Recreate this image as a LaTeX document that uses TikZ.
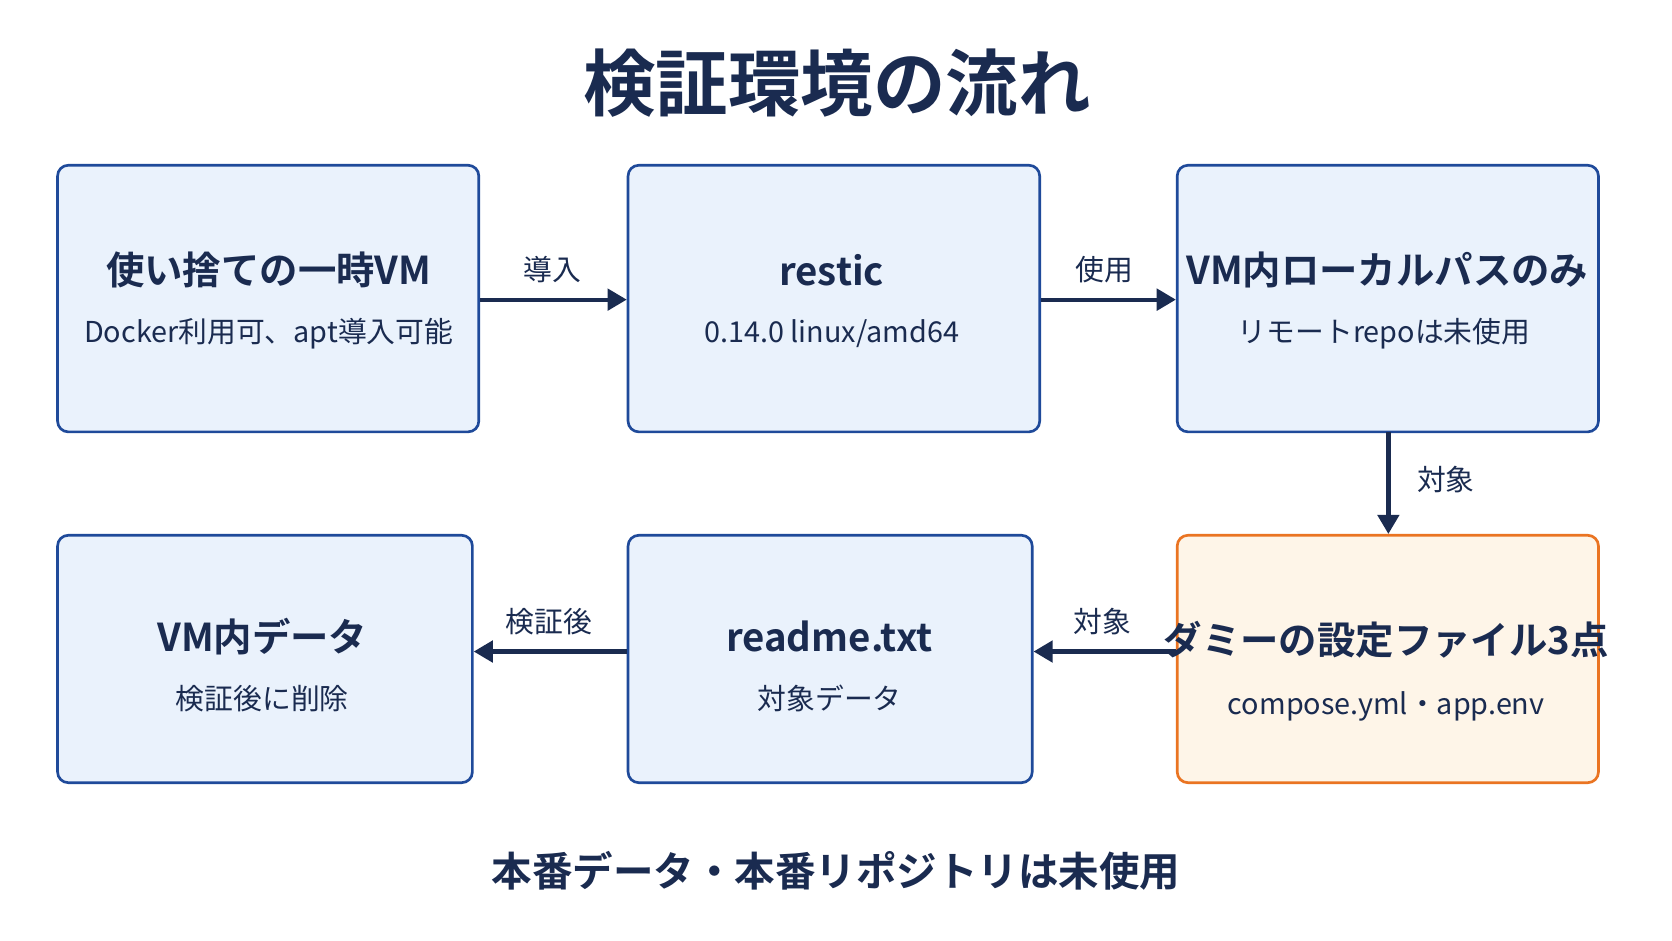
\documentclass[tikz,border=0pt]{standalone}
\usepackage{fontspec}
\setmainfont{Noto Sans CJK JP}[BoldFont={* Bold}]
\usetikzlibrary{arrows.meta}
\definecolor{navy}{HTML}{1A2B50}
\definecolor{bord}{HTML}{1F4A9A}
\definecolor{fillb}{HTML}{EAF2FC}
\definecolor{orb}{HTML}{EA7422}
\definecolor{orf}{HTML}{FEF5E8}
\begin{document}
\begin{tikzpicture}[x=1pt,y=-1pt,
 box/.style={draw=bord,fill=fillb,line width=2.5pt,rounded corners=10pt},
 obox/.style={box,draw=orb,fill=orf},
 h/.style={font=\bfseries\fontsize{36}{40}\selectfont,text=navy},
 s/.style={font=\fontsize{27}{32}\selectfont,text=navy},
 lab/.style={font=\fontsize{27}{32}\selectfont,text=navy},
 arr/.style={draw=navy,line width=4pt,-{Triangle[length=18pt,width=20pt]}}]
\useasboundingbox (0,0) rectangle (1568,882);
\fill[white] (0,0) rectangle (1568,882);
\node[font=\bfseries\fontsize{68}{72}\selectfont,text=navy] (t) at (785,78) {検証環境の流れ};
\node[box,minimum width=395pt,minimum height=250pt] (b1) at (251.5,280) {};
\node[box,minimum width=386pt,minimum height=250pt] (b2) at (782,280) {};
\node[box,minimum width=395pt,minimum height=250pt] (b3) at (1301.5,280) {};
\node[box,minimum width=389pt,minimum height=232pt] (b4) at (248.5,618) {};
\node[box,minimum width=379pt,minimum height=232pt] (b5) at (778.5,618) {};
\node[obox,minimum width=395pt,minimum height=232pt] (b6) at (1301.5,618) {};
\node[h] (h1) at (252,253) {使い捨ての一時VM};
\node[s] (s1) at (252,313) {Docker利用可、apt導入可能};
\node[h] (h2) at (780,253) {restic};
\node[s] (s2) at (780,313) {0.14.0 linux/amd64};
\node[h] (h3) at (1301,253) {VM内ローカルパスのみ};
\node[s] (s3) at (1298,313) {リモートrepoは未使用};
\node[h] (h4) at (246,597) {VM内データ};
\node[s] (s4) at (246,655) {検証後に削除};
\node[h] (h5) at (778,597) {readme.txt};
\node[s] (s5) at (778,655) {対象データ};
\node[h] (h6) at (1300,600) {ダミーの設定ファイル3点};
\node[s] (s6) at (1300,662) {compose.yml・app.env};
\draw[arr] (b1.east|-0,281) -- (b2.west|-0,281);
\draw[arr] (b2.east|-0,281) -- (b3.west|-0,281);
\draw[arr] (1302,405) -- (b6.north-|1302,0);
\draw[arr] (b6.west|-0,611) -- (b5.east|-0,611);
\draw[arr] (b5.west|-0,611) -- (b4.east|-0,611);
\node[lab] (l1) at (518,253) {導入};
\node[lab] (l2) at (1036,253) {使用};
\node[lab] (l3) at (1356,450) {対象};
\node[lab] (l4) at (1034,583) {対象};
\node[lab] (l5) at (515,583) {検証後};
\node[font=\bfseries\fontsize{38}{42}\selectfont,text=navy] (f) at (784,817) {本番データ・本番リポジトリは未使用};
\end{tikzpicture}
\end{document}
